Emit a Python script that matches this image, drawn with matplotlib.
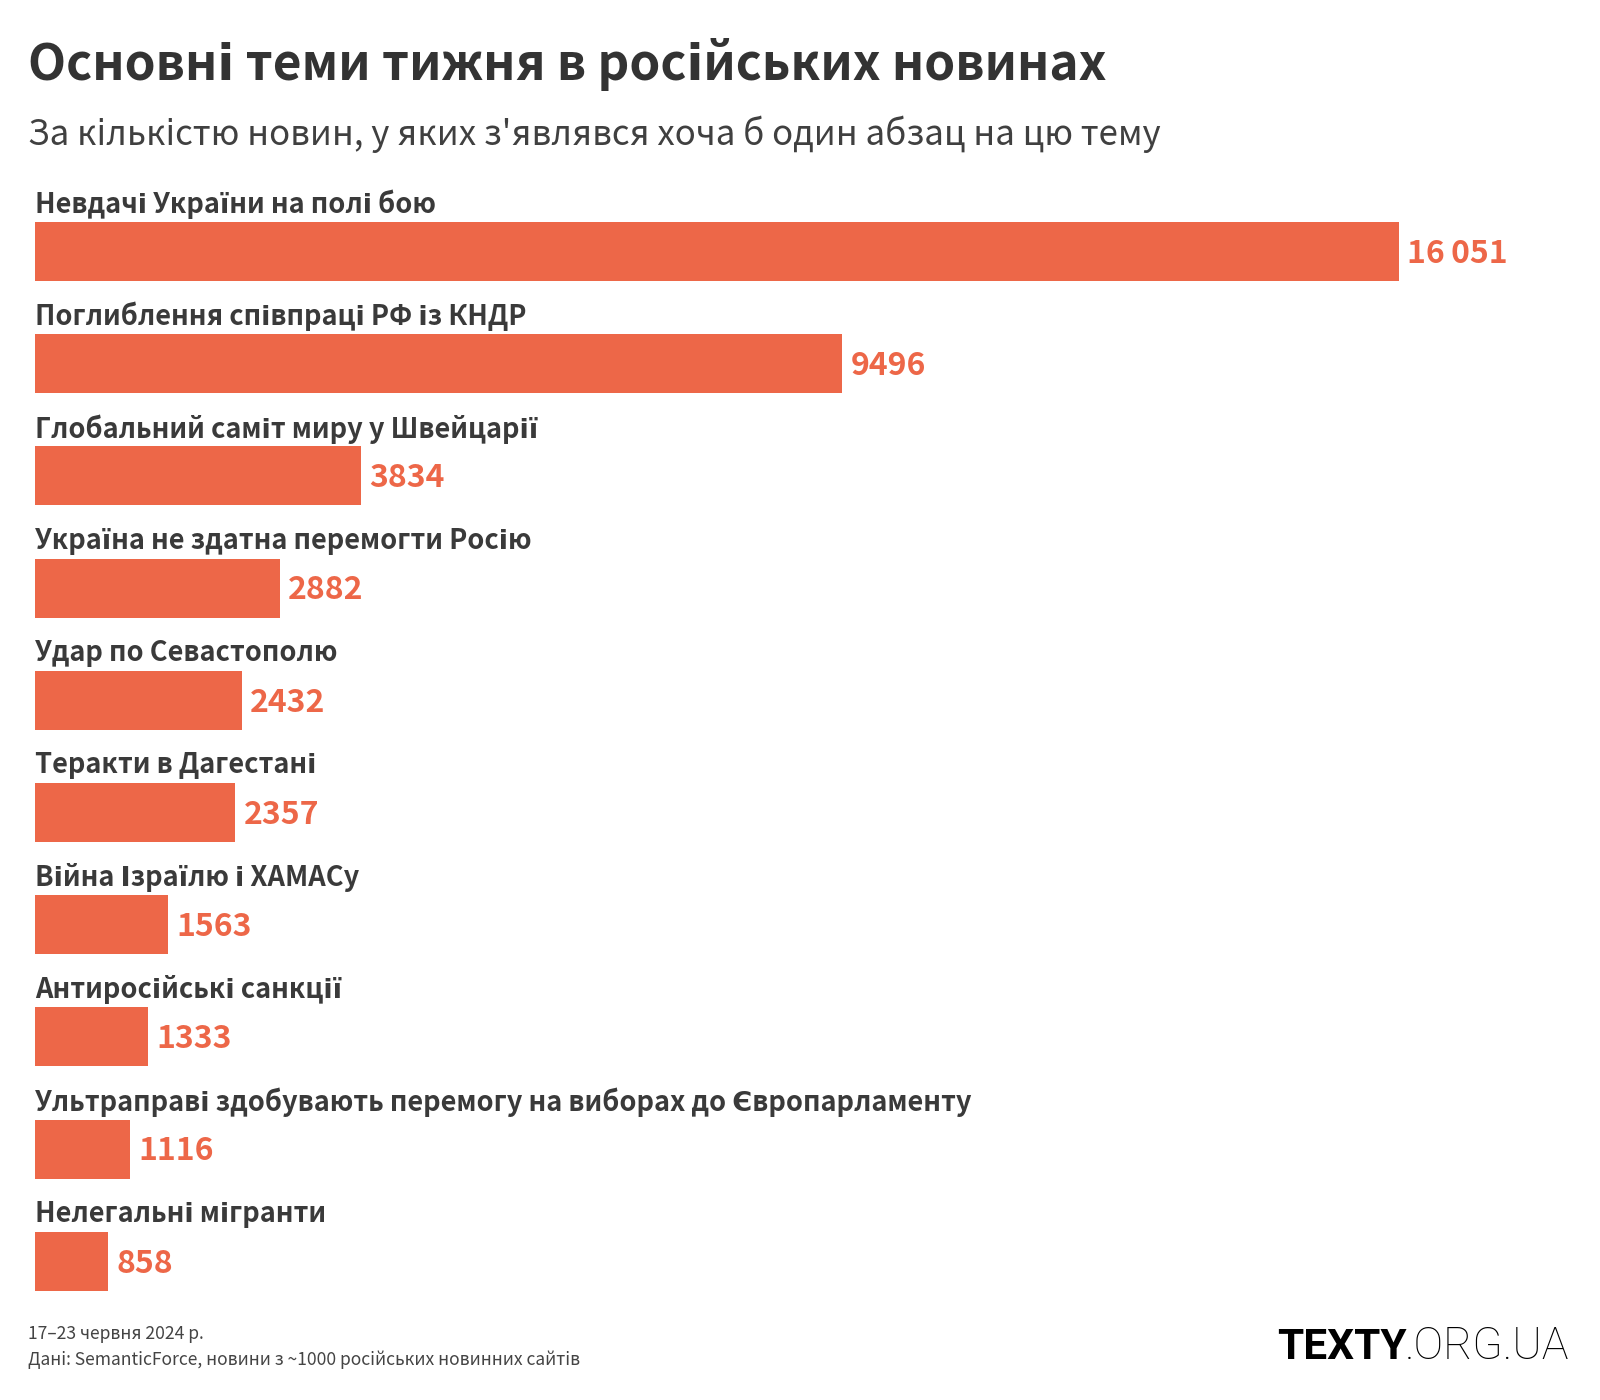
import matplotlib
matplotlib.use('Agg')
import matplotlib.pyplot as plt

# data
topics = [
    'Невдачі України на полі бою',
    'Поглиблення співпраці РФ із КНДР',
    'Глобальний саміт миру у Швейцарії',
    'Україна не здатна перемогти Росію',
    'Удар по Севастополю',
    'Теракти в Дагестані',
    'Війна Ізраїлю і ХАМАСу',
    'Антиросійські санкції',
    'Ультраправі здобувають перемогу на виборах до Європарламенту',
    'Нелегальні мігранти',
]
counts = [16051, 9496, 3834, 2882, 2432, 2357, 1563, 1333, 1116, 858]

FONT = ['Noto Sans CJK JP', 'DejaVu Sans']
plt.rcParams['font.family'] = FONT

BAR = '#ED6748'
DARK = '#3a3a3a'

W, H = 1600, 1400
fig = plt.figure(figsize=(16, 14), dpi=100)

# axes placed so bars land where they are in the reference (pixel-based)
top_px, pitch = 251.5 - 56.1, 112.2
bot_px = top_px + pitch * len(topics)
ax = fig.add_axes([35 / W, 1 - bot_px / H, 1364 / W, (bot_px - top_px) / H])
ypos = list(range(len(topics)))
ax.barh(ypos, counts, height=59 / pitch, color=BAR, align='center')
ax.set_xlim(0, max(counts))
ax.set_ylim(len(topics) - 0.5, -0.5)
ax.axis('off')

for i, (t, v) in enumerate(zip(topics, counts)):
    ax.text(0, i - 0.42, t, fontsize=19.6, fontweight='bold', color=DARK,
            va='center', ha='left', clip_on=False)
    lab = f'{v:,}'.replace(',', '\u2009') if v >= 10000 else str(v)
    ax.annotate(lab, (v, i + 0.02), xytext=(6, 0), textcoords='offset points',
                fontsize=23, fontweight='bold', color=BAR, va='center', ha='left')

# title block
fig.text(28 / W, 1 - 80 / H, 'Основні теми тижня в російських новинах',
         fontsize=35.7, fontweight='bold', color='#333333', va='baseline')
fig.text(28 / W, 1 - 145 / H,
         "За кількістю новин, у яких з'являвся хоча б один абзац на цю тему",
         fontsize=25.1, color='#404040', va='baseline')

# footer
fig.text(28 / W, 1 - 1339 / H, '17–23 червня 2024 р.', fontsize=12.6,
         color='#444444', va='baseline')
fig.text(28 / W, 1 - 1365 / H,
         'Дані: SemanticForce, новини з ~1000 російських новинних сайтів',
         fontsize=12.6, color='#444444', va='baseline')

# logo
t2 = fig.text(1569 / W, 1 - 1359 / H, '.ORG.UA', fontsize=32,
              family='Roboto', fontweight='light', color='black',
              ha='right', va='baseline')
fig.canvas.draw()
bb = t2.get_window_extent()
fig.text((bb.x0 + 2) / W, 1 - 1359 / H, 'TEXTY', fontsize=30.5, family='Roboto',
         fontweight='bold', color='black', ha='right', va='baseline')

fig.savefig('out.png', dpi=100, facecolor='white')
